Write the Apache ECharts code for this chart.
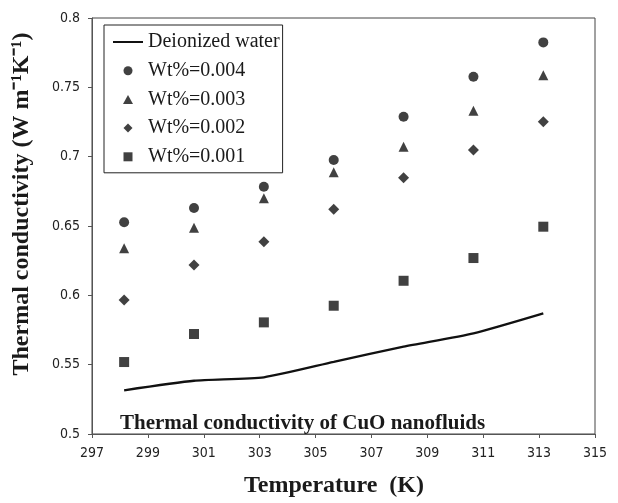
<!DOCTYPE html>
<html>
<head>
<meta charset="utf-8">
<script src="https://cdn.jsdelivr.net/npm/echarts@6/dist/echarts.min.js"></script>
<style>
html,body{margin:0;padding:0;background:#fff;}
#chart{width:618px;height:503px;}
</style>
</head>
<body>
<div id="chart"></div>
<script>
// Data
const temperatures = [298.15, 300.65, 303.15, 305.65, 308.15, 310.65, 313.15];
const water  = [0.5315, 0.5384, 0.5409, 0.552, 0.563, 0.5726, 0.587];
const wt004  = [0.6527, 0.663, 0.6783, 0.6976, 0.7288, 0.7576, 0.7824];
const wt003  = [0.6339, 0.6488, 0.670, 0.6887, 0.7072, 0.7331, 0.7588];
const wt002  = [0.5966, 0.6219, 0.6387, 0.662, 0.6848, 0.7048, 0.7252];
const wt001  = [0.5519, 0.5721, 0.5805, 0.5925, 0.6105, 0.6269, 0.6495];
const xTicks = [297, 299, 301, 303, 305, 307, 309, 311, 313, 315];
const seriesNames = ['Deionized water', 'Wt%=0.004', 'Wt%=0.003', 'Wt%=0.002', 'Wt%=0.001'];

const pair = arr => temperatures.map((t, i) => [t, arr[i]]);
const serif = '"Liberation Serif", "Times New Roman", serif';
const narrow = '"Liberation Sans Narrow", "DejaVu Sans Condensed", sans-serif';
const ink = '#111';

const chart = echarts.init(document.getElementById('chart'), null, {renderer: 'canvas'});
chart.setOption({
  backgroundColor: '#fff',
  animation: false,
  title: {
    text: 'Thermal conductivity of CuO nanofluids',
    left: 115, top: 408,
    textStyle: {fontFamily: serif, fontWeight: 'bold', fontSize: 21, color: '#1a1a1a'}
  },
  legend: {
    orient: 'vertical',
    left: 104, top: 25,
    padding: [7, 3, 6, 9],
    itemWidth: 30, itemHeight: 9,
    itemGap: 8.7,
    borderColor: '#222', borderWidth: 1,
    textStyle: {fontFamily: serif, fontSize: 20, color: '#1a1a1a', lineHeight: 20},
    data: [
      {name: seriesNames[0], icon: 'path://M0 0H30V2H0Z'},
      {name: seriesNames[1], icon: 'circle'},
      {name: seriesNames[2], icon: 'path://M5 0L10 9L0 9Z'},
      {name: seriesNames[3], icon: 'path://M4.5 0L9 4.5L4.5 9L0 4.5Z'},
      {name: seriesNames[4], icon: 'path://M0 0H9V9H0Z'}
    ]
  },
  grid: {left: 92, right: 23, top: 18, bottom: 69, show: true, borderColor: '#444', borderWidth: 1},
  xAxis: {
    type: 'value', min: 297, max: 315,
    name: 'Temperature  (K)', nameLocation: 'middle', nameGap: 40,
    nameTextStyle: {fontFamily: serif, fontWeight: 'bold', fontSize: 24, color: '#1a1a1a', padding: [0, 19, 0, 0]},
    axisLine: {lineStyle: {color: '#555', width: 1}},
    axisTick: {show: true, length: 4, customValues: xTicks, lineStyle: {color: '#555'}},
    axisLabel: {customValues: xTicks, margin: 12, fontFamily: narrow, fontSize: 14, color: '#222'},
    splitLine: {show: false}
  },
  yAxis: {
    type: 'value', min: 0.5, max: 0.8, interval: 0.05,
    name: 'Thermal conductivity (W m\u207B\u00B9K\u207B\u00B9)', nameLocation: 'middle', nameGap: 58,
    nameTextStyle: {fontFamily: serif, fontWeight: 'bold', fontSize: 24, color: '#1a1a1a', padding: [0, 0, 0, 44]},
    axisLine: {show: true, lineStyle: {color: '#555', width: 1}},
    axisTick: {show: true, length: 4, lineStyle: {color: '#555'}},
    axisLabel: {margin: 12, fontFamily: narrow, fontSize: 14, color: '#222', formatter: v => String(+v.toFixed(2))},
    splitLine: {show: false}
  },
  series: [
    {name: seriesNames[0], type: 'line', data: pair(water), symbol: 'none', smooth: 0.2,
     lineStyle: {color: ink, width: 2.3}, itemStyle: {color: ink}},
    {name: seriesNames[1], type: 'scatter', data: pair(wt004), symbol: 'circle', symbolSize: 10, itemStyle: {color: ink}},
    {name: seriesNames[2], type: 'scatter', data: pair(wt003), symbol: 'triangle', symbolSize: 10, itemStyle: {color: ink}},
    {name: seriesNames[3], type: 'scatter', data: pair(wt002), symbol: 'diamond', symbolSize: [11, 11], itemStyle: {color: ink}},
    {name: seriesNames[4], type: 'scatter', data: pair(wt001), symbol: 'rect', symbolSize: 10, itemStyle: {color: ink}}
  ]
});
</script>
</body>
</html>
